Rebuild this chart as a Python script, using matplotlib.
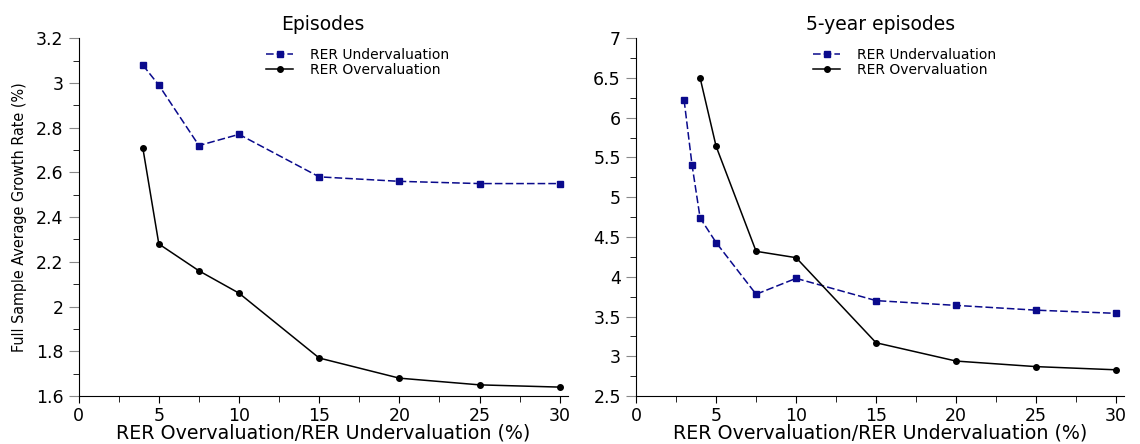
import matplotlib.pyplot as plt
from matplotlib.ticker import MultipleLocator

# --- data ---
ep_x = [4, 5, 7.5, 10, 15, 20, 25, 30]
ep_under = [3.08, 2.99, 2.72, 2.77, 2.58, 2.56, 2.55, 2.55]
ep_over = [2.71, 2.28, 2.16, 2.06, 1.77, 1.68, 1.65, 1.64]

five_under_x = [3, 3.5, 4, 5, 7.5, 10, 15, 20, 25, 30]
five_under = [6.22, 5.40, 4.74, 4.43, 3.78, 3.98, 3.70, 3.64, 3.58, 3.54]
five_over_x = [4, 5, 7.5, 10, 15, 20, 25, 30]
five_over = [6.50, 5.64, 4.32, 4.24, 3.17, 2.94, 2.87, 2.83]

navy = '#0a0a8c'
plt.rcParams['font.family'] = ['DejaVu Sans']

fig = plt.figure(figsize=(11.4, 4.44), dpi=100)
ax1 = fig.add_axes([0.069, 0.108, 0.429, 0.806])
ax2 = fig.add_axes([0.558, 0.108, 0.428, 0.806])


def style(ax, title, ylim, ymaj, ymin, legx):
    ax.set_title(title, fontsize=13.5, pad=6)
    ax.set_xlim(0, 30.5)
    ax.set_ylim(*ylim)
    ax.spines['top'].set_visible(False)
    ax.spines['right'].set_visible(False)
    ax.xaxis.set_major_locator(MultipleLocator(5))
    ax.xaxis.set_minor_locator(MultipleLocator(2.5))
    ax.yaxis.set_major_locator(MultipleLocator(ymaj))
    ax.yaxis.set_minor_locator(MultipleLocator(ymin))
    ax.tick_params(which='major', direction='out', labelsize=12.5)
    ax.tick_params(axis='y', which='major', length=7, color='#888888', pad=4)
    ax.tick_params(axis='x', which='major', length=5, pad=3)
    ax.tick_params(which='minor', direction='out', length=4)
    ax.yaxis.set_major_formatter(plt.FuncFormatter(lambda v, p: f'{v:g}'))
    ax.set_xlabel('RER Overvaluation/RER Undervaluation (%)', fontsize=13.7, labelpad=-1)
    ax.legend(loc='upper center', bbox_to_anchor=(legx, 1.0),
              frameon=False, fontsize=10, handlelength=2.0, handletextpad=1.2,
              labelspacing=0.1, borderpad=0.2)


ax1.plot(ep_x, ep_under, color=navy, marker='s', markersize=5, lw=1.1,
         dashes=(5, 2), label='RER Undervaluation')
ax1.plot(ep_x, ep_over, '-', color='black', marker='o', markersize=4, lw=1.1, label='RER Overvaluation')
style(ax1, 'Episodes', (1.6, 3.2), 0.2, 0.1, 0.57)
ax1.set_ylabel('Full Sample Average Growth Rate (%)', fontsize=11.5, labelpad=6,
               fontstretch='condensed')

ax2.plot(five_under_x, five_under, color=navy, marker='s', markersize=5, lw=1.1,
         dashes=(5, 2), label='RER Undervaluation')
ax2.plot(five_over_x, five_over, '-', color='black', marker='o', markersize=4, lw=1.1, label='RER Overvaluation')
style(ax2, '5-year episodes', (2.5, 7), 0.5, 0.25, 0.55)

plt.savefig('out.png', dpi=100)
